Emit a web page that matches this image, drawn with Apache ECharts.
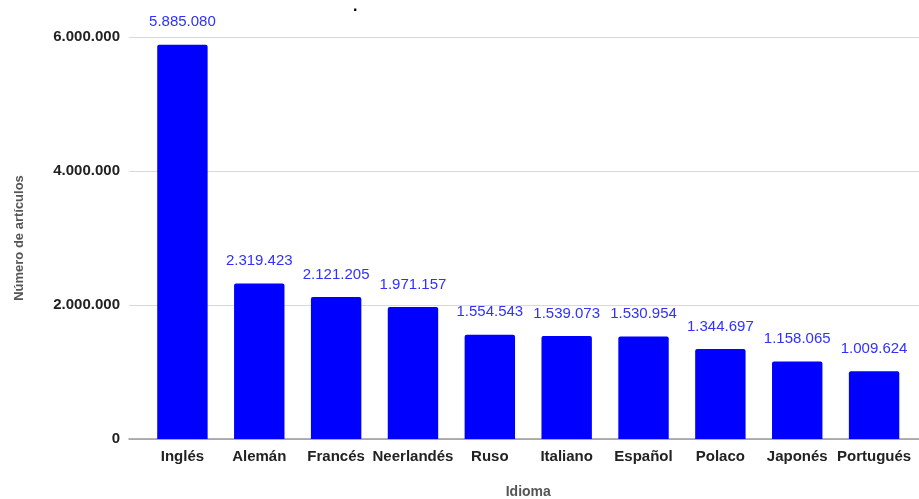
<!DOCTYPE html>
<html>
<head>
<meta charset="utf-8">
<script src="https://cdn.jsdelivr.net/npm/echarts@6/dist/echarts.min.js"></script>
<style>html,body{margin:0;padding:0;background:#fff}#c{width:919px;height:499px}</style>
</head>
<body>
<div id="c"></div>
<script>
const categories = ['Inglés','Alemán','Francés','Neerlandés','Ruso','Italiano','Español','Polaco','Japonés','Portugués'];
const articles = [5885080, 2319423, 2121205, 1971157, 1554543, 1539073, 1530954, 1344697, 1158065, 1009624];
const yTicks = [0, 2000000, 4000000, 6000000];

function fmt(v){ return String(Math.round(v)).replace(/\B(?=(\d{3})+(?!\d))/g, '.'); }

const chart = echarts.init(document.getElementById('c'));
const FONT = '"Liberation Sans", Arial, Helvetica, sans-serif';
chart.setOption({
  animation: false,
  textStyle: { fontFamily: FONT },
  title: { text: '.', left: 348, top: -6, textStyle: { fontSize: 16, fontWeight: 'bold', color: '#000', fontFamily: FONT } },
  grid: [
    { left: 129, right: 0, top: 37, bottom: 60, outerBoundsMode: 'none', containLabel: false },
    { left: 144, right: 6.5, top: 37, bottom: 60, outerBoundsMode: 'none', containLabel: false }
  ],
  xAxis: [
    { gridIndex: 0, type: 'value', min: 0, max: 1, show: true,
      axisLine: { show: true, onZero: false, lineStyle: { color: '#999', width: 1.5 } },
      axisTick: { show: false }, axisLabel: { show: false }, splitLine: { show: false } },
    { gridIndex: 1, type: 'category', data: categories,
      name: 'Idioma', nameLocation: 'middle', nameGap: 46,
      nameTextStyle: { fontSize: 14, fontWeight: 'bold', color: '#555', fontFamily: FONT },
      axisLine: { show: false }, axisTick: { show: false },
      axisLabel: { margin: 10, fontSize: 15, fontWeight: 'bold', color: '#222', fontFamily: FONT, interval: 0 } }
  ],
  yAxis: [
    { gridIndex: 0, type: 'value', min: yTicks[0], max: yTicks[yTicks.length-1], interval: 2000000,
      name: 'Número de artículos', nameLocation: 'middle', nameGap: 103,
      nameTextStyle: { fontSize: 13, fontWeight: 'bold', color: '#555', fontFamily: FONT },
      axisLine: { show: false }, axisTick: { show: false },
      axisLabel: { margin: 9, fontSize: 15, fontWeight: 'bold', color: '#222', fontFamily: FONT, formatter: fmt, padding: [4, 0, 0, 0] },
      splitLine: { lineStyle: { color: '#d9d9d9', width: 1 } } },
    { gridIndex: 1, type: 'value', min: yTicks[0], max: yTicks[yTicks.length-1], show: false, splitLine: { show: false } }
  ],
  series: [{
    type: 'bar', xAxisIndex: 1, yAxisIndex: 1, data: articles,
    barWidth: '65.6%',
    itemStyle: { color: '#0000ff', borderRadius: [2,2,0,0] },
    label: { show: true, position: 'top', distance: 15, fontSize: 15, color: '#3030ff', fontFamily: FONT,
      formatter: p => fmt(p.value) }
  }]
});
</script>
</body>
</html>
